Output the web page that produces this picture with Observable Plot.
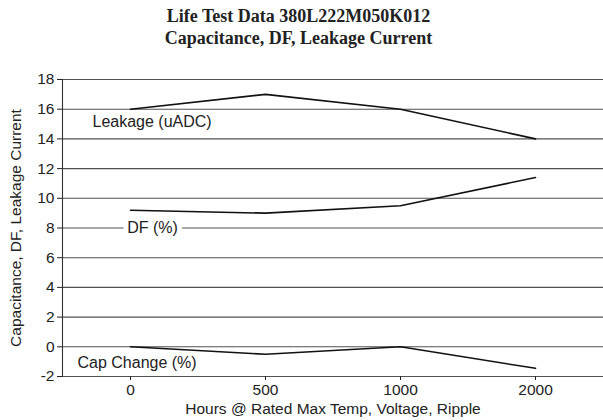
<!DOCTYPE html>
<html>
<head>
<meta charset="utf-8">
<script src="https://cdn.jsdelivr.net/npm/d3@7"></script>
<script src="https://cdn.jsdelivr.net/npm/@observablehq/plot@0.6"></script>
<style>
  html, body { margin: 0; padding: 0; background: #fff; }
  #title { box-sizing: border-box; width: 603px; height: 56px; padding-top: 5px; padding-right: 6px;
    font-family: "Liberation Serif", "Times New Roman", serif; font-weight: bold; font-size: 18px;
    line-height: 22px; text-align: center; color: #222; }
</style>
</head>
<body>
<div id="title">Life Test Data 380L222M050K012<br>Capacitance, DF, Leakage Current</div>
<div id="chart"></div>
<script>
const hours = ["0", "500", "1000", "2000"];
const leakage = [16, 17, 16, 14];
const dfPct = [9.2, 9.0, 9.5, 11.4];
const capChange = [0, -0.5, 0, -1.45];
const seriesNames = ["Leakage (uADC)", "DF (%)", "Cap Change (%)"];
const yTicks = [-2, 0, 2, 4, 6, 8, 10, 12, 14, 16, 18];
const xTitle = "Hours @ Rated Max Temp, Voltage, Ripple";
const yTitle = "Capacitance, DF, Leakage Current";

const rows = [];
[leakage, dfPct, capChange].forEach((vals, si) => {
  vals.forEach((v, i) => rows.push({series: seriesNames[si], hours: hours[i], value: v}));
});

const ink = "#222";
const chart = Plot.plot({
  width: 603,
  height: 364,
  marginLeft: 62,
  marginRight: 0,
  marginTop: 23,
  marginBottom: 44,
  style: {fontFamily: "'Liberation Sans', Arial, sans-serif", fontSize: "15.5px", color: ink, background: "white"},
  x: {type: "point", domain: hours, padding: 0.5},
  y: {domain: [-2, 18]},
  marks: [
    Plot.gridY(yTicks, {stroke: "#333", strokeOpacity: 0.85, strokeWidth: 1.1}),
    Plot.frame({anchor: "left", stroke: "#333", strokeWidth: 1.1}),
    Plot.axisY(yTicks, {tickSize: 5, tickPadding: 3, tickFormat: d => String(d),
      label: yTitle, labelAnchor: "center", labelArrow: "none", labelOffset: 53, fontSize: 15.5}),
    Plot.axisX({tickSize: 4, tickPadding: 3, label: xTitle, labelAnchor: "center", labelArrow: "none", labelOffset: 37}),
    Plot.line(rows, {x: "hours", y: "value", z: "series", stroke: "#111", strokeWidth: 1.6}),
    Plot.text([seriesNames[0]], {x: () => hours[0], y: () => 15.15, text: d => d, textAnchor: "start", dx: -38, fontSize: 16, fill: ink}),
    Plot.text([seriesNames[1]], {x: () => hours[0], y: () => 8, text: d => d, textAnchor: "middle", dx: 22, fontSize: 16, fill: ink, stroke: "white", strokeWidth: 10, paintOrder: "stroke"}),
    Plot.text([seriesNames[2]], {x: () => hours[0], y: () => -1.08, text: d => d, textAnchor: "start", dx: -53, fontSize: 16, fill: ink})
  ]
});
document.getElementById("chart").appendChild(chart);
</script>
</body>
</html>
